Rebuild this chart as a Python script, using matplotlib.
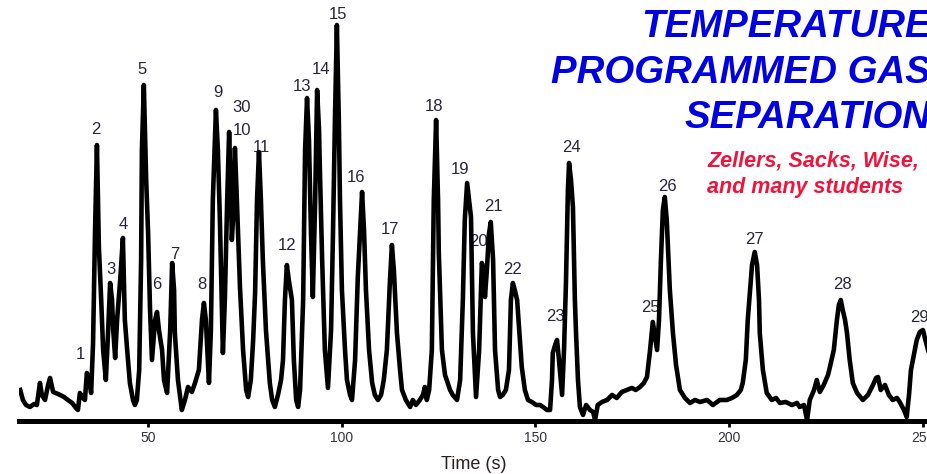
import numpy as np
import matplotlib
matplotlib.use('Agg')
import matplotlib.pyplot as plt

plt.rcParams['font.family'] = ['Liberation Sans', 'DejaVu Sans']

# Chromatogram trace: retention time (s) and detector signal (a.u.)
time_s = [17.1, 17.8, 18.6, 19.6, 20.7, 21.4, 22.2, 22.7, 23.5, 24.3,
          24.8, 25.6, 26.3, 27.4, 28.4, 29.4, 30.5, 31.5, 32.0, 32.5,
          33.3, 33.8, 34.3, 34.9, 35.4, 35.9, 36.4, 36.9, 37.4, 38.0,
          38.5, 39.2, 39.8, 40.3, 40.8, 41.1, 41.6, 42.1, 42.9, 43.6,
          44.1, 44.7, 45.4, 46.2, 46.7, 47.2, 47.8, 48.3, 48.5, 49.0,
          49.6, 50.1, 50.6, 51.1, 51.9, 52.4, 52.9, 53.7, 54.2, 55.0,
          55.8, 56.3, 56.8, 57.0, 57.8, 58.8, 59.6, 60.4, 61.4, 62.2,
          63.2, 64.0, 64.5, 65.0, 65.8, 66.3, 66.8, 67.6, 68.1, 68.6,
          69.2, 69.4, 69.9, 70.5, 71.0, 71.5, 71.7, 72.0, 72.5, 73.0,
          73.8, 74.6, 75.4, 75.9, 76.6, 77.2, 77.7, 78.2, 78.7, 79.2,
          79.7, 80.5, 81.5, 82.1, 82.8, 83.6, 84.4, 84.9, 85.4, 85.9,
          86.4, 87.2, 87.7, 88.3, 88.8, 89.3, 90.1, 90.6, 91.1, 91.6,
          92.1, 92.6, 93.2, 93.7, 94.2, 94.4, 95.0, 95.7, 96.5, 97.3,
          97.8, 98.3, 98.8, 99.3, 99.6, 100.1, 100.9, 101.4, 102.2, 102.7,
          103.5, 104.2, 104.8, 105.3, 105.8, 106.3, 107.1, 107.9, 108.6, 109.4,
          110.2, 110.9, 111.7, 112.5, 113.0, 113.5, 114.3, 115.1, 115.6, 116.6,
          117.7, 118.4, 119.2, 120.2, 121.0, 121.5, 122.0, 122.6, 123.3, 123.8,
          124.4, 124.9, 125.1, 125.9, 126.7, 128.0, 128.7, 129.8, 130.6, 131.3,
          131.8, 132.4, 132.9, 133.4, 133.9, 134.7, 135.5, 136.2, 136.7, 137.0,
          137.5, 138.0, 138.5, 139.1, 139.6, 140.4, 140.9, 141.6, 142.4, 143.2,
          143.7, 144.2, 144.7, 145.3, 146.0, 146.5, 147.3, 148.1, 149.1, 150.2,
          151.2, 152.0, 153.0, 153.8, 154.3, 154.5, 155.1, 155.6, 156.1, 156.9,
          157.4, 157.9, 158.4, 158.7, 159.2, 159.7, 160.2, 160.5, 161.0, 161.5,
          162.3, 163.1, 164.1, 164.9, 165.4, 166.1, 167.2, 168.5, 169.8, 171.0,
          172.3, 173.6, 174.9, 175.9, 177.0, 178.0, 178.8, 179.6, 180.3, 180.8,
          181.4, 181.9, 182.4, 182.9, 183.4, 183.9, 184.2, 184.7, 185.5, 186.3,
          187.3, 188.6, 189.9, 191.2, 192.5, 194.3, 195.8, 197.6, 199.4, 200.7,
          202.0, 203.0, 203.5, 204.3, 204.8, 205.4, 205.9, 206.6, 207.2, 207.7,
          207.9, 208.7, 209.7, 211.0, 212.1, 213.1, 214.6, 216.2, 217.5, 218.2,
          219.3, 220.1, 220.8, 221.9, 222.6, 223.4, 224.4, 225.5, 226.0, 227.0,
          227.8, 228.3, 228.8, 229.3, 229.9, 230.4, 231.1, 231.9, 233.0, 234.5,
          235.8, 237.1, 237.9, 238.4, 239.1, 240.2, 241.2, 242.2, 243.3, 244.0,
          245.1, 245.8, 246.4, 246.9, 247.4, 248.4, 249.2, 250.0, 250.5, 251.3]

signal = [7.5, 5.0, 3.75, 3.25, 4.0, 3.75, 9.25, 6.25, 5.0, 8.75,
          10.5, 7.0, 6.75, 6.25, 5.75, 5.0, 4.25, 3.0, 2.5, 6.75,
          5.5, 5.0, 11.75, 10.0, 6.75, 19.25, 46.75, 68.75, 43.25, 30.0,
          17.5, 10.0, 22.5, 34.25, 30.0, 22.5, 15.5, 25.0, 35.0, 45.5,
          25.0, 17.5, 9.25, 5.0, 3.75, 5.0, 12.5, 40.0, 67.5, 83.75,
          60.0, 46.75, 27.5, 15.0, 25.0, 27.0, 22.5, 17.5, 10.0, 6.75,
          22.5, 39.25, 32.5, 21.75, 10.0, 2.5, 5.0, 8.25, 7.0, 9.25,
          12.5, 25.0, 29.25, 25.0, 9.25, 22.5, 55.0, 77.5, 67.5, 50.75,
          25.0, 16.75, 30.0, 55.0, 72.0, 55.0, 45.0, 50.0, 68.0, 55.0,
          33.25, 17.5, 7.5, 5.75, 10.0, 20.0, 31.75, 55.0, 67.0, 55.0,
          40.0, 22.5, 9.25, 5.0, 3.25, 6.25, 10.0, 15.0, 30.0, 38.75,
          35.0, 30.0, 15.0, 5.0, 3.25, 7.5, 30.0, 67.5, 80.5, 70.0,
          47.5, 30.75, 55.0, 82.5, 72.5, 63.25, 40.0, 17.5, 8.0, 22.5,
          46.75, 75.0, 98.75, 75.0, 55.0, 32.5, 17.5, 10.0, 6.25, 5.0,
          15.0, 35.75, 47.5, 57.0, 47.5, 32.5, 17.5, 9.25, 6.25, 5.0,
          6.25, 10.0, 17.5, 35.0, 43.75, 37.5, 21.75, 12.5, 7.5, 5.0,
          3.25, 5.0, 3.75, 5.0, 6.25, 8.25, 5.0, 7.5, 17.5, 55.0,
          75.0, 55.0, 41.75, 17.5, 11.25, 7.5, 6.25, 5.0, 10.0, 30.0,
          50.0, 59.25, 55.0, 50.75, 21.75, 5.75, 17.5, 39.25, 37.5, 30.75,
          37.5, 46.25, 49.5, 40.0, 17.5, 7.5, 5.75, 6.25, 7.5, 12.5,
          30.0, 34.25, 32.5, 30.0, 20.0, 13.25, 7.5, 5.0, 4.5, 3.75,
          3.75, 3.25, 2.5, 2.5, 10.0, 16.75, 18.75, 20.0, 15.0, 6.25,
          17.5, 34.25, 57.5, 64.25, 60.0, 53.25, 30.0, 21.75, 10.0, 3.25,
          1.25, 3.75, 2.5, 2.0, 0.0, 3.75, 4.5, 5.0, 6.25, 5.5,
          7.0, 7.5, 8.0, 7.5, 8.25, 9.25, 10.75, 17.5, 24.5, 21.25,
          17.5, 25.0, 40.0, 52.5, 55.75, 50.0, 43.25, 32.5, 21.75, 13.75,
          7.5, 5.5, 4.25, 5.0, 4.5, 5.0, 3.75, 5.0, 5.0, 5.5,
          6.25, 7.5, 9.25, 15.0, 25.0, 32.5, 38.75, 42.0, 38.75, 30.0,
          21.75, 12.5, 6.75, 5.0, 5.5, 4.25, 4.5, 3.75, 4.25, 3.25,
          3.75, 0.0, 5.0, 7.5, 10.0, 7.0, 8.75, 11.25, 13.25, 17.5,
          25.0, 28.75, 30.0, 27.5, 25.0, 21.75, 15.0, 9.25, 6.75, 5.0,
          6.25, 8.75, 10.5, 10.75, 7.5, 8.75, 6.25, 5.0, 5.5, 4.5,
          2.5, 0.75, 6.25, 12.5, 15.0, 20.0, 22.0, 22.5, 20.5, 17.5]

# peak numbers and where their labels sit
peak_labels = ['1', '2', '3', '4', '5', '6', '7', '8', '9', '30',
               '10', '11', '12', '13', '14', '15', '16', '17', '18', '19',
               '20', '21', '22', '23', '24', '25', '26', '27', '28', '29']
label_t = [32.5, 36.7, 40.5, 43.6, 48.5, 52.4, 57.0, 64.0, 68.1, 74.1,
           74.3, 79.2, 85.9, 89.8, 94.7, 99.1, 103.7, 112.5, 123.8, 130.6,
           135.2, 139.1, 144.0, 155.1, 159.4, 179.6, 184.2, 206.6, 229.1, 249.2]
label_s = [16.25, 72.5, 37.5, 48.75, 87.5, 33.75, 41.25, 33.75, 81.75, 78.0,
           72.25, 68.0, 43.5, 83.25, 87.5, 101.25, 60.5, 47.5, 78.25, 62.5,
           44.5, 53.25, 37.5, 25.75, 68.0, 28.0, 58.25, 45.0, 33.75, 25.5]

xticks = [50, 100, 150, 200, 250]

title_lines = ['TEMPERATURE', 'PROGRAMMED GAS', 'SEPARATION']
credit_lines = ['Zellers, Sacks, Wise,', 'and many students']

fig = plt.figure(figsize=(9.28, 4.74), dpi=100)
ax = fig.add_axes([0.0205, 0.1108, 0.9795, 0.8892])

ax.plot(time_s, signal, color='black', lw=3.3, solid_joinstyle='round', zorder=2)

for lab, t, s in zip(peak_labels, label_t, label_s):
    ax.text(t, s, lab, ha='center', va='center', fontsize=12,
            color='#26263a', zorder=1, clip_on=False)

ax.set_xlim(16.8, 251.3)
ax.set_ylim(-0.375, 105)
ax.set_xticks(xticks)
ax.set_yticks([])
for side in ['top', 'right', 'left']:
    ax.spines[side].set_visible(False)
ax.spines['bottom'].set_linewidth(3.6)
ax.tick_params(axis='x', length=4, width=2, pad=3, labelsize=10, labelcolor='#333340')
ax.set_xlabel('Time (s)', fontsize=13, color='#2a1f1f', labelpad=7.5)
ax.patch.set_visible(False)

# title block, right-aligned and cut by the right edge like the original slide
for line, y in zip(title_lines, [0.922, 0.825, 0.730]):
    fig.text(1.003, y, line, ha='right', va='baseline', fontsize=27.6,
             fontweight='bold', fontstyle='italic', color='#0000e0')

for line, y in zip(credit_lines, [0.648, 0.593]):
    fig.text(0.762, y, line, ha='left', va='baseline', fontsize=15.5,
             fontweight='bold', fontstyle='italic', color='#f0143c')

fig.savefig('out.png', dpi=100)
